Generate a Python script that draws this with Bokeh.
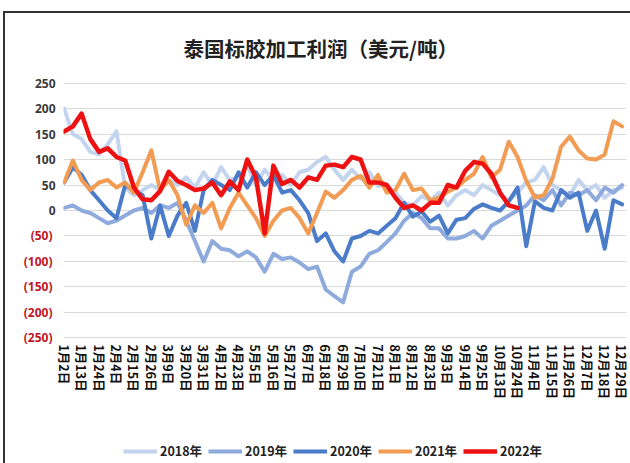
from bokeh.plotting import figure
from bokeh.layouts import column
from bokeh.models import (Range1d, FixedTicker, Legend, LegendItem, LinearAxis)
from bokeh.embed import file_html
from bokeh.resources import INLINE

# ---------------- data ----------------
tick_labels = ["1月2日", "1月13日", "1月24日", "2月4日", "2月15日", "2月26日",
               "3月9日", "3月20日", "3月31日", "4月12日", "4月23日", "5月5日",
               "5月16日", "5月27日", "6月7日", "6月18日", "6月29日", "7月10日",
               "7月21日", "8月1日", "8月12日", "8月23日", "9月3日", "9月14日",
               "9月25日", "10月13日", "10月24日", "11月4日", "11月15日",
               "11月26日", "12月7日", "12月18日", "12月29日"]
y_ticks = [-250, -200, -150, -100, -50, 0, 50, 100, 150, 200, 250]

s2018 = [200, 150, 140, 115, 110, 130, 155, 45, 30, 40, 50, 40, 60, 50, 65, 45,
         75, 50, 85, 60, 65, 90, 50, 80, 60, 70, 50, 75, 80, 95, 105, 80, 60,
         80, 62, 75, 48, 50, 35, 15, 10, 28, 20, 35, 10, 30, 40, 30, 50, 40, 30,
         20, 35, 55, 60, 85, 50, 40, 30, 60, 40, 50, 25, 40, 45]
s2019 = [5, 10, 0, -5, -15, -25, -20, -10, 0, 5, -5, 10, 5, 15, -20, -60, -100,
         -60, -75, -78, -90, -80, -92, -120, -85, -95, -92, -102, -115, -110,
         -155, -168, -180, -120, -110, -85, -78, -62, -45, -20, -5, -15, -35,
         -35, -55, -55, -50, -40, -55, -30, -20, -10, 0, 10, 30, 20, 40, 10, 35,
         30, 40, 20, 45, 35, 50]
s2020 = [55, 85, 70, 40, 20, 0, -15, 50, 40, 30, -55, 10, -50, -10, 15, -40, 40,
         60, 50, 40, 75, 45, 75, 50, 70, 35, 40, 20, -5, -60, -45, -80, -100,
         -55, -50, -40, -45, -30, -15, 15, -12, -2, -22, -10, -45, -18, -15, 3,
         12, 5, 0, 18, 45, -70, 18, 5, 0, 40, 25, 35, -40, 0, -75, 20, 12]
s2021 = [55, 98, 60, 40, 55, 60, 45, 55, 35, 75, 118, 40, 60, 30, -28, 10, -5,
         15, -35, 5, 35, 10, -15, -50, -20, 0, 5, -15, -45, -5, 37, 25, 40, 60,
         68, 45, 70, 35, 40, 72, 40, 43, 20, 25, 37, 45, 60, 72, 105, 65, 80,
         135, 105, 58, 25, 30, 62, 125, 145, 118, 102, 100, 110, 175, 165]
s2022 = [155, 165, 190, 140, 115, 122, 105, 98, 45, 22, 20, 38, 76, 58, 50, 40,
         43, 55, 30, 57, 40, 100, 65, -45, 88, 52, 60, 45, 65, 60, 88, 90, 85,
         105, 100, 55, 55, 50, 25, 5, 10, 0, 15, 15, 50, 45, 78, 95, 92, 72, 35,
         10, 5]

years = ["2018年", "2019年", "2020年", "2021年", "2022年"]
colors = ["#C3D4EE", "#8FAADC", "#4A7CC9", "#F29B52", "#EE1111"]
widths = [4, 4, 4, 4, 4.5]
series = [s2018, s2019, s2020, s2021, s2022]

step = 4          # trading-day spacing between read points
label_step = 8    # trading days between category labels

# ---------------- main figure ----------------
p = figure(width=625, height=427, output_backend="svg", toolbar_location=None,
           x_range=Range1d(-0.3, 258), y_range=Range1d(-255, 255),
           min_border_left=58, min_border_right=4, min_border_top=65,
           min_border_bottom=100, background_fill_color="white",
           border_fill_color="white")
p.outline_line_color = None

# title
p.title.text = "泰国标胶加工利润（美元/吨）"
p.title.align = "left"
p.title.offset = 120
p.title.standoff = 35
p.title.text_font = "Noto Sans CJK SC"
p.title.text_font_style = "bold"
p.title.text_font_size = "20.5px"
p.title.text_color = "#222222"

# grid
p.xgrid.visible = False
p.ygrid.ticker = FixedTicker(ticks=y_ticks)
p.ygrid.grid_line_color = "#D9D9D9"
p.ygrid.grid_line_width = 1

# x axis
xt = [i * label_step for i in range(len(tick_labels))]
xa = p.xaxis[0]
xa.ticker = FixedTicker(ticks=xt)
xa.major_label_overrides = {t: l for t, l in zip(xt, tick_labels)}
xa.major_label_orientation = "vertical"
xa.axis_line_color = None
xa.major_tick_line_color = None
xa.minor_tick_line_color = None
xa.major_tick_out = 0
xa.major_tick_in = 0
xa.major_label_standoff = 4
xa.major_label_text_font = "Noto Sans CJK SC"
xa.major_label_text_font_style = "bold"
xa.major_label_text_font_size = "12.5px"
xa.major_label_text_color = "#111111"

# y axis (positive labels)
ya = p.yaxis[0]
ya.ticker = FixedTicker(ticks=y_ticks)
ya.major_label_overrides = {v: (str(v) if v >= 0 else "") for v in y_ticks}
ya.axis_line_color = None
ya.major_tick_line_color = None
ya.minor_tick_line_color = None
ya.major_tick_out = 0
ya.major_tick_in = 0
ya.major_label_standoff = 8
ya.major_label_text_font = "Noto Sans"
ya.major_label_text_font_style = "bold"
ya.major_label_text_font_size = "12px"
ya.major_label_text_color = "#3A3A3A"

# y axis (negative labels, red, in parentheses)
yb = LinearAxis(ticker=FixedTicker(ticks=y_ticks),
                major_label_overrides={v: ("(%d)" % (-v) if v < 0 else "")
                                       for v in y_ticks},
                axis_line_color=None, major_tick_line_color=None,
                minor_tick_line_color=None, major_tick_out=0, major_tick_in=0,
                major_label_standoff=-21, major_label_text_font="Noto Sans",
                major_label_text_font_style="bold",
                major_label_text_font_size="12px",
                major_label_text_color="#C0141E")
p.add_layout(yb, "left")

# lines
for ys, c, w in zip(series, colors, widths):
    xs = [i * step for i in range(len(ys))]
    p.line(xs, ys, line_color=c, line_width=w, line_join="round",
           line_cap="round")

# ---------------- legend strip ----------------
lg = figure(width=625, height=23, output_backend="svg", toolbar_location=None,
            x_range=Range1d(0, 1), y_range=Range1d(0, 1),
            x_axis_location=None, y_axis_location=None,
            min_border_left=0, min_border_right=0, min_border_top=0,
            min_border_bottom=0, background_fill_color="white",
            border_fill_color="white")
lg.outline_line_color = None
lg.xgrid.visible = False
lg.ygrid.visible = False
nan = float("nan")
keys = []
for c, w in zip(colors, widths):
    # legend key only: a single undefined point, nothing is drawn in the strip
    keys.append(lg.line(x=[nan], y=[nan], line_color=c, line_width=w))
legend = Legend(items=[LegendItem(label=y, renderers=[r])
                       for y, r in zip(years, keys)],
                orientation="horizontal", location=(60, 3),
                glyph_width=34, glyph_height=14, label_height=14,
                label_standoff=3, spacing=6, padding=0, margin=0,
                label_text_font="Noto Sans CJK SC",
                label_text_font_style="bold", label_text_font_size="12.5px",
                label_text_color="#222222", border_line_color=None,
                background_fill_alpha=0)
lg.add_layout(legend)

page = column(p, lg, spacing=0)
page.styles = {"border-left": "2px solid #333", "border-top": "2px solid #333",
               "margin-left": "3px", "margin-top": "11px"}

open("out.html", "w").write(file_html(page, INLINE))
